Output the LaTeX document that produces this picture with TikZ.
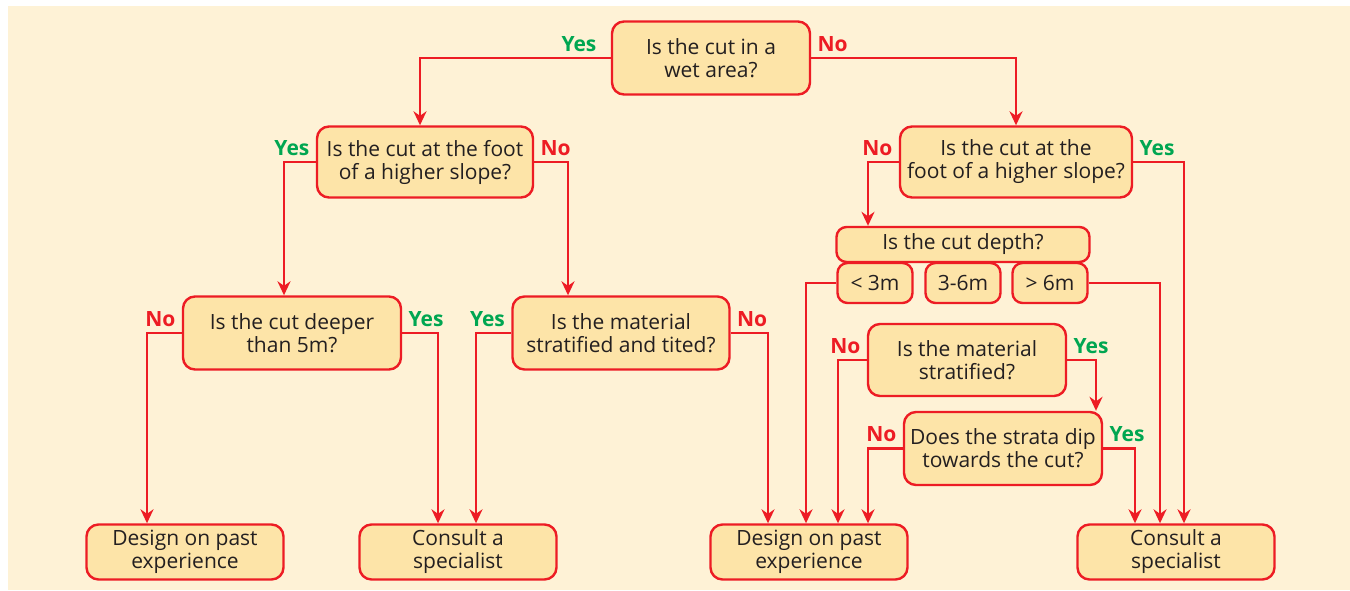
\documentclass[tikz,border=0pt]{standalone}
\usepackage{fontspec}
\setmainfont{Open Sans}
\usepackage{tikz}
\usetikzlibrary{arrows.meta,calc,positioning}
\definecolor{bgcream}{RGB}{254,242,214}
\definecolor{boxfill}{RGB}{253,228,168}
\definecolor{flowred}{RGB}{237,28,36}
\definecolor{yesgreen}{RGB}{0,166,81}
\definecolor{textdark}{RGB}{35,31,32}
\tikzset{
    %Define standard arrow tip
    >={Stealth[length=7pt,width=6.5pt]},
    %Define style for boxes
    question/.style={
           rectangle,
           rounded corners=6pt,
           draw=flowred, line width=1.2pt,
           fill=boxfill,
           inner sep=0pt,
           minimum width=99pt,
           minimum height=36.5pt,
           font=\fontsize{10.5}{11.5}\selectfont,
           text=textdark,
           align=center},
    answer/.style={
           question,
           minimum width=98.5pt,
           minimum height=27.5pt},
    depthbox/.style={
           question,
           rounded corners=5pt,
           minimum width=37.5pt,
           minimum height=20pt},
    % Define label style
    yeslbl/.style={
           text=yesgreen,
           font=\fontsize{10.5}{11}\selectfont\bfseries,
           inner sep=3pt},
    nolbl/.style={
           yeslbl,
           text=flowred},
    % Define arrow style
    pil/.style={
           ->,
           draw=flowred,
           line width=1.2pt}
}

\begin{document}
\begin{tikzpicture}[x=0.5pt,y=-0.5pt]

 \useasboundingbox (0,0) rectangle (1350,590);
 \fill[bgcream] (8,6) rectangle (1350,590);

 %nodes
 \node[question](wet) at (711,58){Is the cut in a\\wet area?};
 \node[question, minimum width=108pt, minimum height=35.5pt](footL) at (425,162){Is the cut at the foot\\of a higher slope?};
 \node[question, minimum width=116pt, minimum height=35.5pt](footR) at (1016,162){Is the cut at the\\foot of a higher slope?};
 \node[question, minimum width=109pt](deeper) at (292,333){Is the cut deeper\\than 5m?};
 \node[question, minimum width=108.5pt](tilted) at (621,333){Is the material\\stratified and tited?};
 \node[question, rounded corners=5pt, minimum width=126.5pt, minimum height=17.5pt](depth) at (963,244.5){Is the cut depth?};
 \node[depthbox](less) at (875,283){< 3m};
 \node[depthbox](mid) at (963,283){3-6m};
 \node[depthbox](more) at (1050,283){> 6m};
 \node[question, minimum height=36pt](strat) at (967,360){Is the material\\stratified?};
 \node[question](dip) at (1003,448.5){Does the strata dip\\towards the cut?};

 \node[answer](designL) at (185,552){Design on past\\experience};
 \node[answer](consultL) at (458,552){Consult a\\specialist};
 \node[answer](designM) at (809,552){Design on past\\experience};
 \node[answer](consultR) at (1176,552){Consult a\\specialist};

 %labels
 \node[yeslbl, anchor=south east] at ($(wet.west)+(-8,0)$){Yes};
 \node[nolbl, anchor=south west] at (wet.east){No};
 \node[yeslbl, anchor=south east] at (footL.west){Yes};
 \node[nolbl, anchor=south west] at (footL.east){No};
 \node[nolbl, anchor=south east] at (footR.west){No};
 \node[yeslbl, anchor=south west] at (footR.east){Yes};
 \node[nolbl, anchor=south east] at (deeper.west){No};
 \node[yeslbl, anchor=south west] at (deeper.east){Yes};
 \node[yeslbl, anchor=south east] at (tilted.west){Yes};
 \node[nolbl, anchor=south west] at (tilted.east){No};
 \node[nolbl, anchor=south east] at (strat.west){No};
 \node[yeslbl, anchor=south west] at (strat.east){Yes};
 \node[nolbl, anchor=south east] at (dip.west){No};
 \node[yeslbl, anchor=south west] at (dip.east){Yes};

 %edges
 \draw[pil] (wet.west) -| ($(footL.north)+(-5,0)$);
 \draw[pil] (wet.east) -| (footR.north);
 \draw[pil] (footL.west) -| ($(deeper.north)+(-8,0)$);
 \draw[pil] (footL.east) -| ($(tilted.north)+(-53,0)$);
 \draw[pil] (deeper.west) -| ($(designL.north)+(-38,0)$);
 \draw[pil] (deeper.east) -| ($(consultL.north)+(-20,0)$);
 \draw[pil] (tilted.west) -| ($(consultL.north)+(18,0)$);
 \draw[pil] (tilted.east) -| ($(designM.north)+(-41,0)$);
 \draw[pil] (footR.west) -| ($(depth.north)+(-95,0)$);
 \draw[pil] (footR.east) -| ($(consultR.north)+(8,0)$);
 \draw[pil] (less.west) -| ($(designM.north)+(-3,0)$);
 \draw[pil] (more.east) -| ($(consultR.north)+(-16,0)$);
 \draw[pil] (strat.west) -| ($(designM.north)+(29,0)$);
 \draw[pil] (strat.east) -| ($(dip.north)+(93,0)$);
 \draw[pil] (dip.west) -| ($(designM.north)+(59,0)$);
 \draw[pil] (dip.east) -| ($(consultR.north)+(-41,0)$);

\end{tikzpicture}
\end{document}
